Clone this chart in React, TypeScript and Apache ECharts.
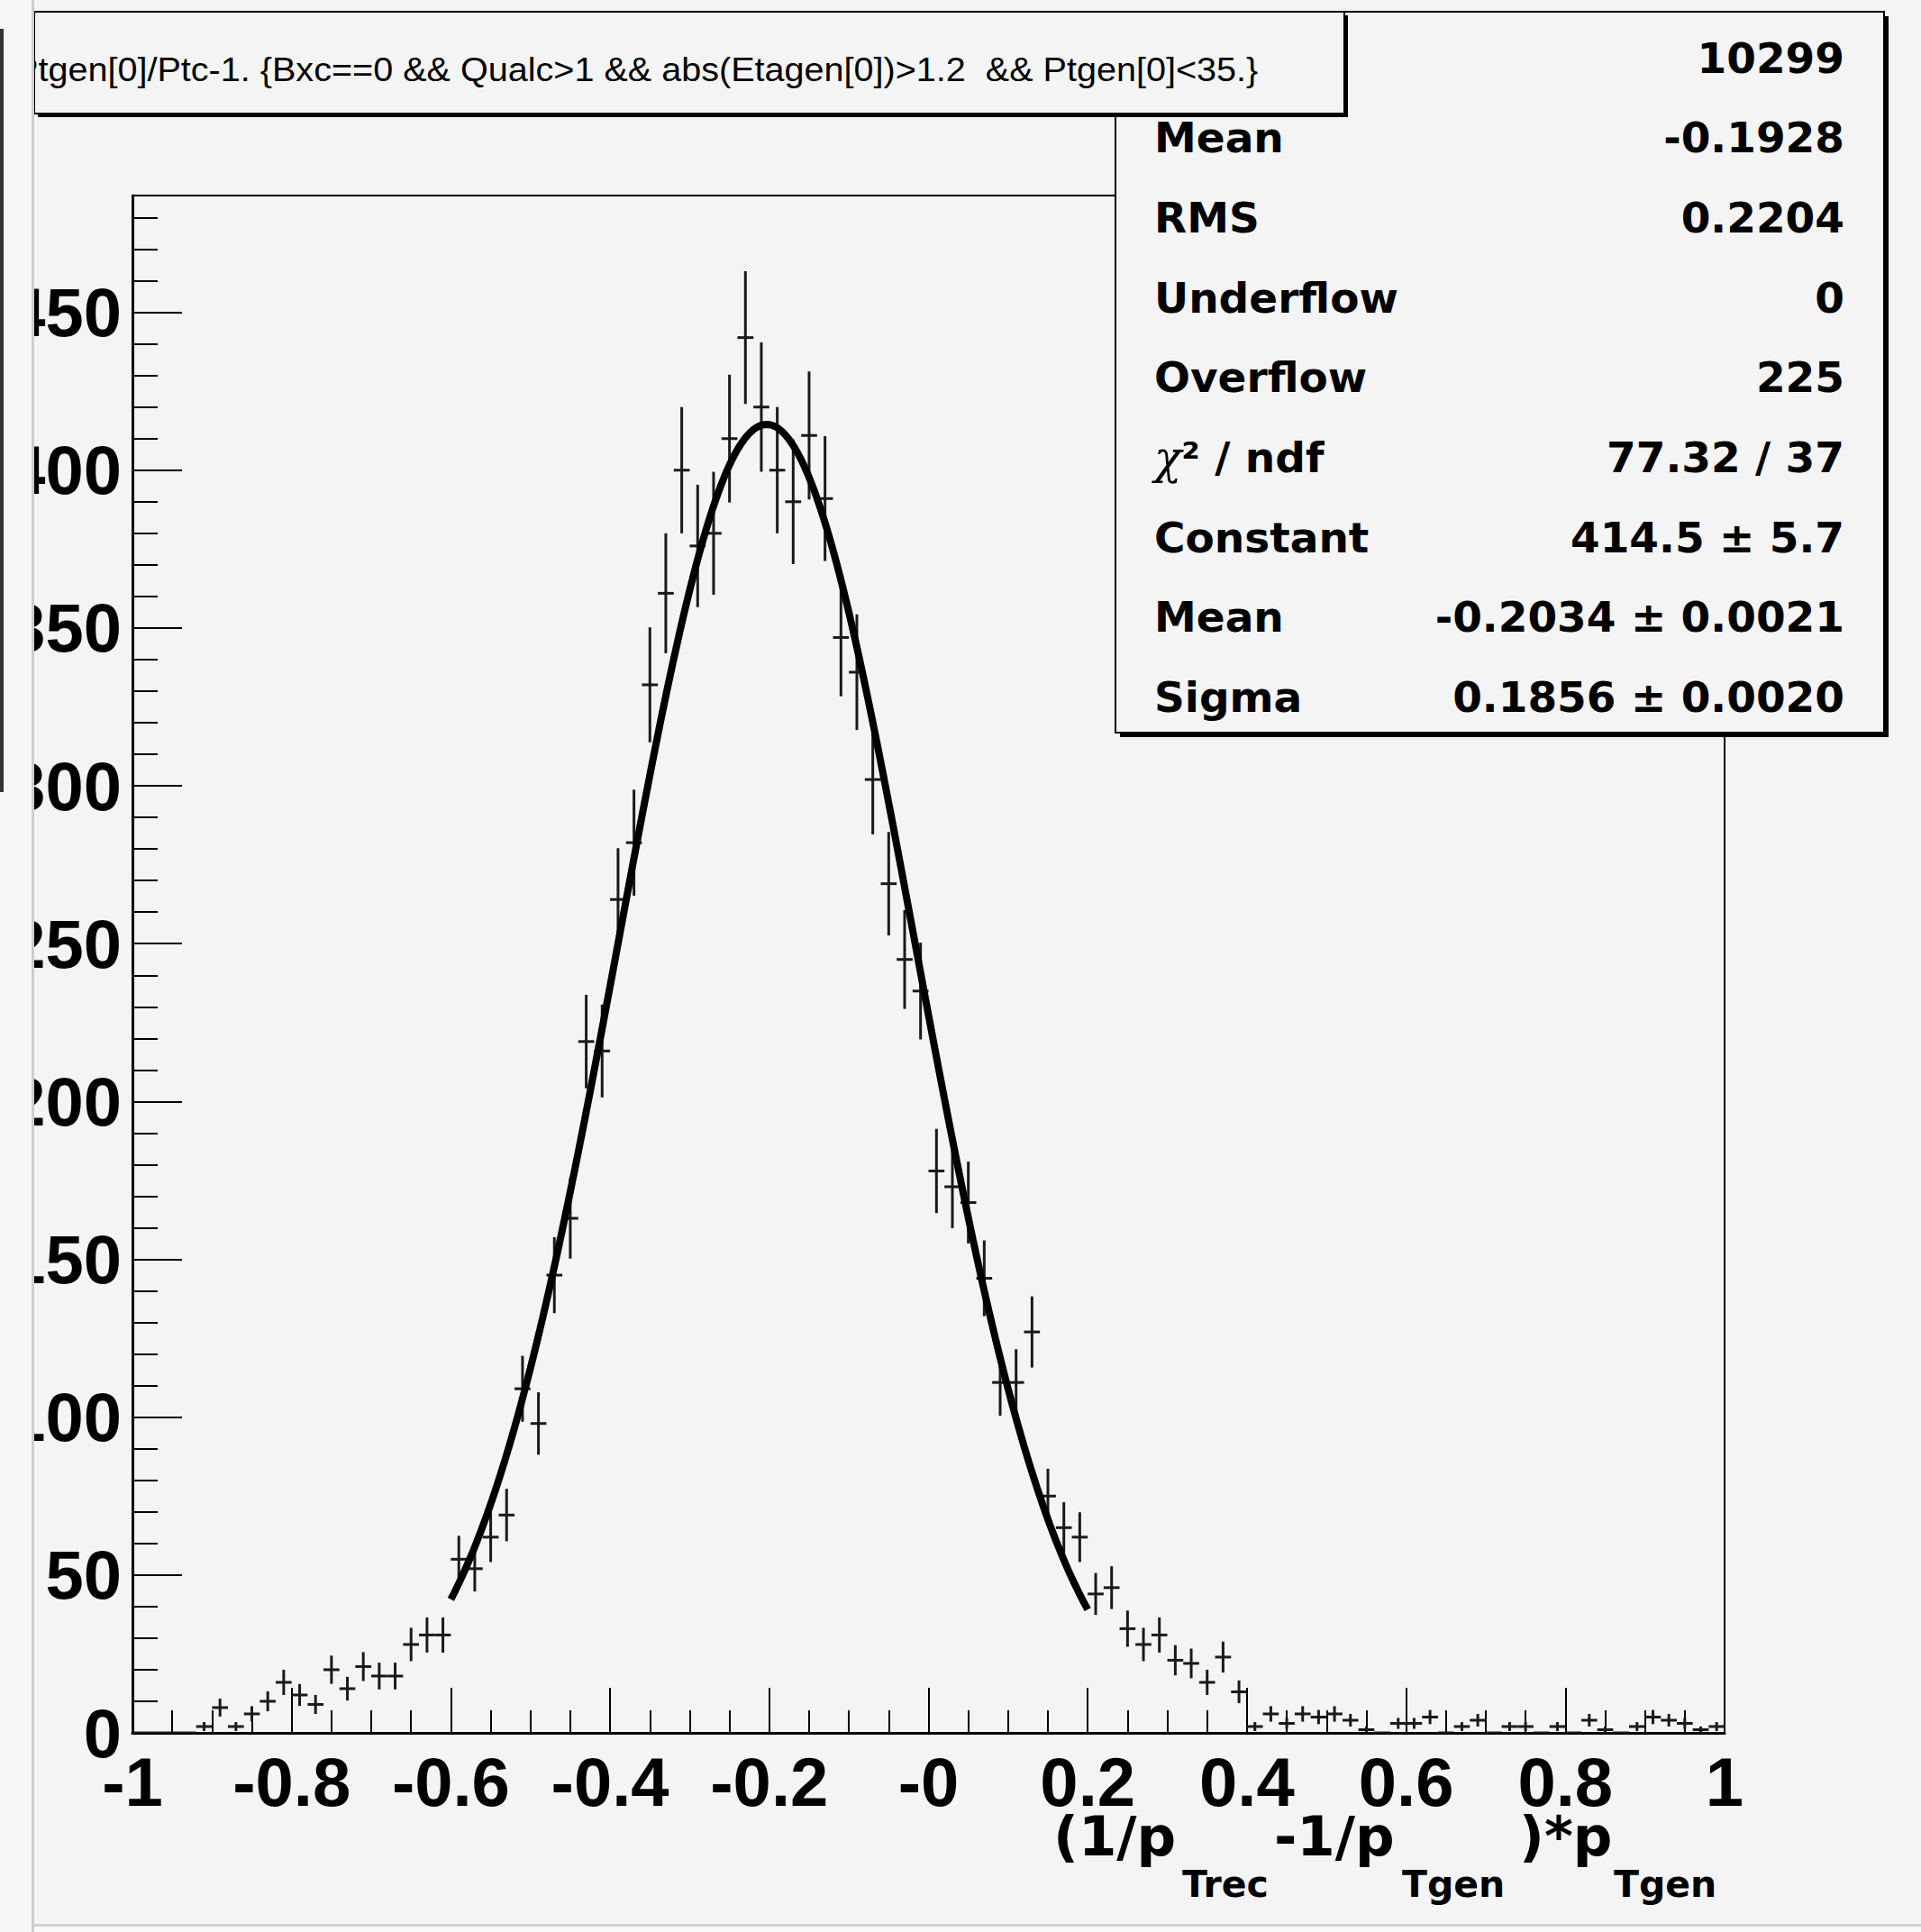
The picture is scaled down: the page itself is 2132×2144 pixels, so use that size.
import React, { useEffect, useRef } from 'react';
import * as echarts from 'echarts';

const W = 2132;
const H = 2144;

// Histogram binning
const X_MIN = -1;
const X_MAX = 1;
const N_BINS = 100;
const Y_MIN = 0;
const Y_MAX = 487;

// Bin contents (100 bins of width 0.02 from -1 to 1)
const BIN_COUNTS = [
  0, 0, 0, 0, 2, 8, 2, 6, 10, 16,
  12, 9, 20, 14, 21, 18, 18, 28, 31, 31,
  55, 52, 62, 69, 109, 98, 145, 163, 219, 216,
  264, 282, 332, 361, 400, 376, 380, 410, 442, 420,
  400, 390, 411, 391, 347, 336, 302, 269, 245, 235,
  178, 173, 168, 144, 111, 111, 127, 75, 65, 62,
  44, 46, 33, 28, 31, 23, 22, 16, 24, 13,
  2, 6, 3, 6, 5, 6, 4, 1, 0, 3,
  3, 5, 0, 2, 4, 0, 2, 2, 0, 2,
  0, 4, 1, 0, 2, 5, 4, 3, 1, 2,
];

// Gaussian fit (parameters shown in the stats box)
const FIT_CONSTANT = 414.5;
const FIT_MEAN = -0.2034;
const FIT_SIGMA = 0.1856;
const FIT_LOW = -0.6;
const FIT_HIGH = 0.2;
const FIT_SAMPLES = 200;

// Tick labels
const X_TICK_VALUES = [-1, -0.8, -0.6, -0.4, -0.2, 0, 0.2, 0.4, 0.6, 0.8, 1];
const X_TICK_LABELS = ['-1', '-0.8', '-0.6', '-0.4', '-0.2', '-0', '0.2', '0.4', '0.6', '0.8', '1'];
const Y_TICK_VALUES = [0, 50, 100, 150, 200, 250, 300, 350, 400, 450];
const Y_TICK_LABELS = ['0', '50', '100', '150', '200', '250', '300', '350', '400', '450'];

// Texts
const TITLE = 'Ptgen[0]/Ptc-1. {Bxc==0 && Qualc>1 && abs(Etagen[0])>1.2  && Ptgen[0]<35.}';
const STAT_LABELS = ['', 'Mean', 'RMS', 'Underflow', 'Overflow', 'CHI', 'Constant', 'Mean', 'Sigma'];
const STAT_VALUES = ['10299', '-0.1928', '0.2204', '0', '225', '77.32 / 37', '414.5 ± 5.7', '-0.2034 ± 0.0021', '0.1856 ± 0.0020'];
const AXIS_TITLE_PARTS = [
  { text: '(1/p', sub: false, x: 1169 },
  { text: 'Trec', sub: true, x: 1312 },
  { text: '-1/p', sub: false, x: 1414 },
  { text: 'Tgen', sub: true, x: 1556 },
  { text: ')*p', sub: false, x: 1686 },
  { text: 'Tgen', sub: true, x: 1791 },
];

const BG = '#f4f4f4';
const INK = '#000';

function labelFor(values: number[], labels: string[], v: number): string {
  for (let i = 0; i < values.length; i++) {
    if (Math.abs(values[i] - v) < 1e-6) return labels[i];
  }
  return '';
}

export default function App() {
  const ref = useRef<HTMLDivElement>(null);

  useEffect(() => {
    if (!ref.current) return;
    const chart = echarts.init(ref.current, undefined, { renderer: 'svg', width: W, height: H });

    const binWidth = (X_MAX - X_MIN) / N_BINS;
    const histData = BIN_COUNTS.map((n, i) => [X_MIN + (i + 0.5) * binWidth, n, Math.sqrt(n)]);

    const fitData: number[][] = [];
    for (let k = 0; k <= FIT_SAMPLES; k++) {
      const x = FIT_LOW + ((FIT_HIGH - FIT_LOW) * k) / FIT_SAMPLES;
      const z = (x - FIT_MEAN) / FIT_SIGMA;
      fitData.push([x, FIT_CONSTANT * Math.exp(-0.5 * z * z)]);
    }

    const gridLeft = 147;
    const gridRight = 1914;
    const gridTop = 217;
    const gridBottom = 1923;

    const labelFont = { fontFamily: 'Liberation Sans', fontWeight: 'bold' as const, fontSize: 76, color: INK };

    const statsX0 = 1238;
    const statsY0 = 13;
    const statsW = 853;
    const statsH = 800;
    const rowY0 = 64;
    const rowStep = 88.7;
    const statFont = 'bold 47px "DejaVu Sans"';

    const graphics: any[] = [];

    // stats box shadow and body
    graphics.push({ type: 'rect', z: 50, shape: { x: statsX0 + 5, y: statsY0 + 5, width: statsW, height: statsH }, style: { fill: '#000' } });
    graphics.push({ type: 'rect', z: 51, shape: { x: statsX0, y: statsY0, width: statsW, height: statsH }, style: { fill: BG, stroke: INK, lineWidth: 2 } });
    STAT_LABELS.forEach((lab, i) => {
      const y = rowY0 + rowStep * i;
      if (lab === 'CHI') {
        graphics.push({
          type: 'text', z: 52, x: 1281, y,
          style: {
            text: '{g|χ}{b|² / ndf}',
            align: 'left', verticalAlign: 'middle', textAlign: 'left', textVerticalAlign: 'middle',
            fill: INK,
            rich: {
              g: { fontFamily: 'DejaVu Serif', fontSize: 50, fontStyle: 'italic', fill: INK, lineHeight: 50 },
              b: { fontFamily: 'DejaVu Sans', fontWeight: 'bold', fontSize: 47, fill: INK, lineHeight: 50 },
            },
          },
        });
      } else if (lab) {
        graphics.push({
          type: 'text', z: 52, x: 1281, y,
          style: { text: lab, font: statFont, lineHeight: 50, fill: INK, align: 'left', verticalAlign: 'middle', textAlign: 'left', textVerticalAlign: 'middle' },
        });
      }
      graphics.push({
        type: 'text', z: 52, x: 2047, y,
        style: { text: STAT_VALUES[i], font: statFont, lineHeight: 50, fill: INK, align: 'right', verticalAlign: 'middle', textAlign: 'right', textVerticalAlign: 'middle' },
      });
    });

    // title box
    graphics.push({ type: 'rect', z: 60, shape: { x: 42, y: 17, width: 1454, height: 113 }, style: { fill: '#000' } });
    graphics.push({ type: 'rect', z: 61, shape: { x: 38, y: 13, width: 1454, height: 113 }, style: { fill: BG, stroke: INK, lineWidth: 2 } });
    graphics.push({
      type: 'text', z: 62, x: 16, y: 77, scaleX: 1.07,
      style: { text: TITLE, font: '37px "Liberation Sans"', lineHeight: 40, fill: INK, align: 'left', verticalAlign: 'middle', textAlign: 'left', textVerticalAlign: 'middle' },
    });

    // axis title
    AXIS_TITLE_PARTS.forEach((p) => {
      graphics.push({
        type: 'text', z: 40, x: p.x, y: p.sub ? 2091 : 2037,
        style: {
          text: p.text,
          font: p.sub ? 'bold 41px "DejaVu Sans"' : 'bold 61px "DejaVu Sans"',
          lineHeight: p.sub ? 30 : 44,
          fill: INK, align: 'left', verticalAlign: 'middle', textAlign: 'left', textVerticalAlign: 'middle',
        },
      });
    });

    // left strip (canvas edge) covering the clipped labels
    graphics.push({ type: 'rect', z: 100, shape: { x: 0, y: 0, width: 38, height: H }, style: { fill: '#f6f6f6' } });
    graphics.push({ type: 'rect', z: 101, shape: { x: 35, y: 0, width: 3, height: H }, style: { fill: '#cdcdcd' } });
    graphics.push({ type: 'rect', z: 101, shape: { x: 0, y: 32, width: 4, height: 847 }, style: { fill: '#333' } });
    // bottom edge
    graphics.push({ type: 'rect', z: 100, shape: { x: 38, y: 2135, width: W - 38, height: 3 }, style: { fill: '#d2d2d2' } });
    graphics.push({ type: 'rect', z: 100, shape: { x: 38, y: 2138, width: W - 38, height: 6 }, style: { fill: '#fafafa' } });

    const option: any = {
      animation: false,
      backgroundColor: BG,
      grid: {
        left: gridLeft,
        right: W - gridRight,
        top: gridTop,
        bottom: H - gridBottom,
        show: true,
        backgroundColor: BG,
        borderColor: INK,
        borderWidth: 2,
      },
      xAxis: [
        {
          type: 'value', min: X_MIN, max: X_MAX, interval: 0.2, position: 'bottom',
          axisLine: { show: true, onZero: false, lineStyle: { color: INK, width: 3 } },
          axisTick: { show: true, inside: true, length: 50, lineStyle: { color: INK, width: 2 } },
          minorTick: { show: true, splitNumber: 4, length: 25, lineStyle: { color: INK, width: 2 } },
          axisLabel: {
            ...labelFont, lineHeight: 56, margin: 26, showMinLabel: true, showMaxLabel: true,
            formatter: (v: number) => labelFor(X_TICK_VALUES, X_TICK_LABELS, v),
          },
          splitLine: { show: false },
        },
      ],
      yAxis: [
        {
          type: 'value', min: Y_MIN, max: Y_MAX, interval: 50, position: 'left',
          axisLine: { show: true, onZero: false, lineStyle: { color: INK, width: 3 } },
          axisTick: { show: true, inside: true, length: 55, lineStyle: { color: INK, width: 2 } },
          axisLabel: {
            ...labelFont, lineHeight: 50, margin: 12,
            formatter: (v: number) => labelFor(Y_TICK_VALUES, Y_TICK_LABELS, v),
          },
          splitLine: { show: false },
        },
        {
          type: 'value', min: Y_MIN, max: Y_MAX, interval: 10, position: 'left',
          axisLine: { show: false, onZero: false },
          axisTick: { show: true, inside: true, length: 28, lineStyle: { color: INK, width: 2 } },
          axisLabel: { show: false },
          splitLine: { show: false },
        },
      ],
      series: [
        {
          type: 'custom',
          xAxisIndex: 0,
          yAxisIndex: 0,
          data: histData,
          encode: { x: 0, y: 1 },
          clip: true,
          z: 3,
          renderItem: (params: any, api: any) => {
            const x = api.value(0);
            const y = api.value(1);
            const e = api.value(2);
            const half = binWidth / 2;
            const pL = api.coord([x - half, y]);
            const pR = api.coord([x + half, y]);
            const children: any[] = [
              { type: 'line', shape: { x1: pL[0], y1: pL[1], x2: pR[0], y2: pR[1] }, style: { stroke: '#1a1a1a', lineWidth: 3 } },
            ];
            if (e > 0) {
              const pT = api.coord([x, y + e]);
              const pB = api.coord([x, Math.max(0, y - e)]);
              children.push({ type: 'line', shape: { x1: pT[0], y1: pT[1], x2: pB[0], y2: pB[1] }, style: { stroke: '#1a1a1a', lineWidth: 3 } });
            }
            return { type: 'group', children };
          },
        },
        {
          type: 'line',
          xAxisIndex: 0,
          yAxisIndex: 0,
          data: fitData,
          showSymbol: false,
          symbol: 'none',
          smooth: false,
          z: 4,
          lineStyle: { color: INK, width: 8 },
        },
      ],
      graphic: { elements: graphics },
    };

    chart.setOption(option);
    return () => chart.dispose();
  }, []);

  return <div ref={ref} style={{ position: 'absolute', left: 0, top: 0, width: W, height: H }} />;
}
